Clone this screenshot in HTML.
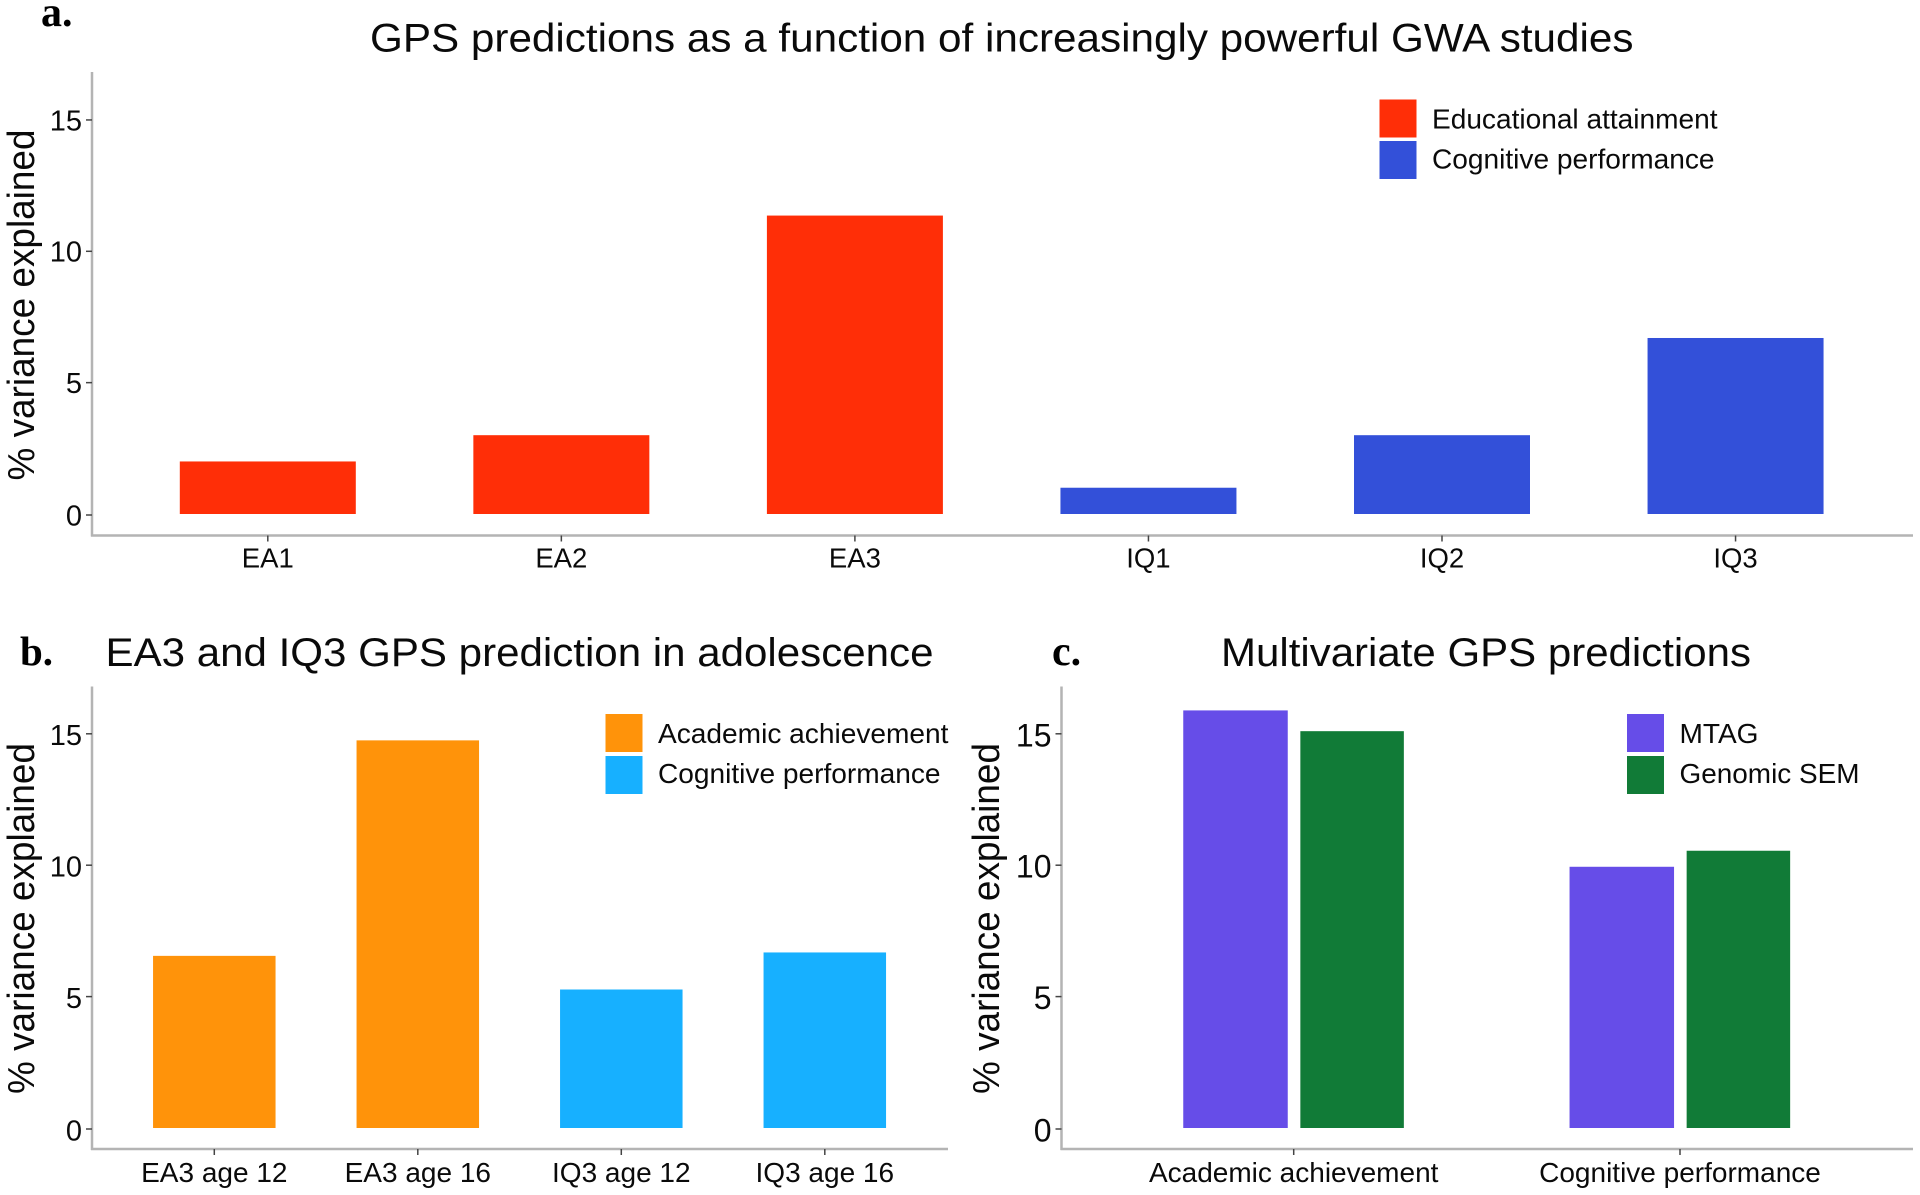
<!DOCTYPE html>
<html lang="en">
<head>
<meta charset="utf-8">
<title>GPS predictions</title>
<style>
html,body{margin:0;padding:0;background:#fff;width:1920px;height:1195px;overflow:hidden}
svg{display:block}
text{font-family:"Liberation Sans",sans-serif;fill:#0a0a0a}
.letter{font-family:"Liberation Serif",serif;font-weight:700;fill:#000}
</style>
</head>
<body>
<svg id="figure" width="1920" height="1195" viewBox="0 0 1920 1195" xmlns="http://www.w3.org/2000/svg">
  <rect width="1920" height="1195" fill="#fff"/>
  <text class="letter" x="41" y="26" font-size="42">a.</text>
  <text class="letter" x="20" y="665" font-size="41">b.</text>
  <text class="letter" x="1052" y="665" font-size="42">c.</text>
  <g id="panel-a"></g>
  <g id="panel-b"></g>
  <g id="panel-c"></g>
</svg>
<script>
// ---- Data ----
const yTickValues = [0, 5, 10, 15];
const yTickLabels = ['0', '5', '10', '15'];

const aCategories = ['EA1', 'EA2', 'EA3', 'IQ1', 'IQ2', 'IQ3'];
const aValues = [2.0, 3.0, 11.36, 1.0, 3.0, 6.7];
const aSeriesOf = [0, 0, 0, 1, 1, 1];
const aSeriesNames = ['Educational attainment', 'Cognitive performance'];

const bCategories = ['EA3 age 12', 'EA3 age 16', 'IQ3 age 12', 'IQ3 age 16'];
const bValues = [6.55, 14.75, 5.27, 6.68];
const bSeriesOf = [0, 0, 1, 1];
const bSeriesNames = ['Academic achievement', 'Cognitive performance'];

const cCategories = ['Academic achievement', 'Cognitive performance'];
const cMtagValues = [15.89, 9.94];
const cGenomicValues = [15.1, 10.55];
const cSeriesNames = ['MTAG', 'Genomic SEM'];

// ---- Drawing helpers ----
const NS = 'http://www.w3.org/2000/svg';
function svgEl(parent, tag, props) {
  const el = document.createElementNS(NS, tag);
  for (const k in props) el.setAttribute(k, props[k]);
  parent.appendChild(el);
  return el;
}
function label(parent, str, x, y, size, anchor, length) {
  const el = svgEl(parent, 'text', {x: x, y: y, 'font-size': size, 'text-anchor': anchor || 'start'});
  if (length) {
    el.setAttribute('textLength', length);
    el.setAttribute('lengthAdjust', 'spacingAndGlyphs');
  }
  el.textContent = str;
  return el;
}
function slug(s) { return s.toLowerCase().replace(/[^a-z0-9]+/g, '-'); }

function drawFrame(g, f) {
  const title = label(g, f.title, f.titleX, f.titleY, 40, 'start', f.titleLen);
  
  

  const yTitle = label(g, '% variance explained', 0, 0, 38, 'middle', 351);
  yTitle.setAttribute('transform', 'translate(' + f.yTitleX + ' ' + f.yTitleY + ') rotate(-90)');
  
  

  const yAxis = svgEl(g, 'line', {x1: f.left, x2: f.left, y1: f.top, y2: f.axisY + 1, stroke: '#b4b4b4', 'stroke-width': 2.5});
  
  

  const xAxis = svgEl(g, 'line', {x1: f.left - 1, x2: f.right, y1: f.axisY, y2: f.axisY, stroke: '#b4b4b4', 'stroke-width': 2.5});
  
  

  yTickValues.forEach(function (v, i) {
    const y = f.y(v) + (v === 0 ? 1 : 0);
    const tick = svgEl(g, 'line', {x1: f.left - 6, x2: f.left, y1: y, y2: y, stroke: '#444', 'stroke-width': 1.5});
    
    
    const t = label(g, yTickLabels[i], f.left - f.yLabelGap, y + f.yLabelSize * 0.36 + f.yLabelShift, f.yLabelSize, 'end');
    
    
  });
}

function drawXTick(g, f, cx, name) {
  const tick = svgEl(g, 'line', {x1: cx, x2: cx, y1: f.axisY, y2: f.axisY + 6, stroke: '#444', 'stroke-width': 1.5});
  
  
  const t = label(g, name, cx, f.xLabelY, f.xLabelSize, 'middle');
  
  
}

function drawLegend(g, f, names, colors) {
  names.forEach(function (name, i) {
    const top = f.legendY[i];
    const swatch = svgEl(g, 'rect', {x: f.legendX, y: top, width: 37, height: 38, fill: colors[i]});
    
    
    const t = label(g, name, f.legendX + 52.5, f.legendTextY[i], 28, 'start', f.legendLen[i]);
    
    
  });
}

function drawBar(g, f, cx, width, value, color, name) {
  const top = f.y(value);
  const bar = svgEl(g, 'rect', {x: cx - width / 2, y: top, width: width, height: f.y(0) - top, fill: color});
  
  
}

// ---- Panel a ----
(function () {
  const g = document.getElementById('panel-a');
  const colors = ['#ff2e07', '#3350d9'];
  const f = {
    title: 'GPS predictions as a function of increasingly powerful GWA studies',
    titleX: 370, titleY: 51.5, titleLen: 1263.5,
    yTitleX: 34, yTitleY: 305,
    left: 92, right: 1913, top: 72, axisY: 535.5,
    y: function (v) { return 514 - v * 26.27; },
    yLabelGap: 10, yLabelSize: 29, yLabelShift: 0, xLabelY: 567.5, xLabelSize: 27.5,
    legendX: 1379.5, legendY: [99.5, 141], legendTextY: [128.5, 168.5], legendLen: [285.5, 282.5]
  };
  const x = function (i) { return 267.8 + i * 293.55; };
  drawFrame(g, f);
  aCategories.forEach(function (name, i) {
    drawBar(g, f, x(i), 176, aValues[i], colors[aSeriesOf[i]], 'bar-' + slug(name));
    drawXTick(g, f, x(i), name);
  });
  drawLegend(g, f, aSeriesNames, colors);
})();

// ---- Panel b ----
(function () {
  const g = document.getElementById('panel-b');
  const colors = ['#ff930a', '#17b0ff'];
  const f = {
    title: 'EA3 and IQ3 GPS prediction in adolescence',
    titleX: 105.5, titleY: 666, titleLen: 828,
    yTitleX: 34, yTitleY: 918.5,
    left: 92, right: 948, top: 686.5, axisY: 1149,
    y: function (v) { return 1128 - v * 26.28; },
    yLabelGap: 10, yLabelSize: 29, yLabelShift: 1, xLabelY: 1182, xLabelSize: 28,
    legendX: 605.5, legendY: [714, 756], legendTextY: [743.2, 783.2], legendLen: [290.5, 282.5]
  };
  const x = function (i) { return 214.3 + i * 203.5; };
  drawFrame(g, f);
  bCategories.forEach(function (name, i) {
    drawBar(g, f, x(i), 122.5, bValues[i], colors[bSeriesOf[i]], 'bar-' + slug(name));
    drawXTick(g, f, x(i), name);
  });
  drawLegend(g, f, bSeriesNames, colors);
})();

// ---- Panel c ----
(function () {
  const g = document.getElementById('panel-c');
  const colors = ['#664de8', '#117b37'];
  const f = {
    title: 'Multivariate GPS predictions',
    titleX: 1221, titleY: 666, titleLen: 530,
    yTitleX: 999, yTitleY: 918.5,
    left: 1061.5, right: 1913, top: 686.5, axisY: 1149,
    y: function (v) { return 1128 - v * 26.28; },
    yLabelGap: 10, yLabelSize: 32, yLabelShift: 1, xLabelY: 1182, xLabelSize: 28,
    legendX: 1627, legendY: [714, 756], legendTextY: [743.2, 783.2], legendLen: [79, 180]
  };
  const x = function (i) { return 1293.7 + i * 386.3; };
  drawFrame(g, f);
  cCategories.forEach(function (name, i) {
    drawBar(g, f, x(i) - 58.2, 104.5, cMtagValues[i], colors[0], 'bar-mtag-' + slug(name));
    drawBar(g, f, x(i) + 58.4, 103.5, cGenomicValues[i], colors[1], 'bar-genomic-sem-' + slug(name));
    drawXTick(g, f, x(i), name);
  });
  drawLegend(g, f, cSeriesNames, colors);
})();
</script>
</body>
</html>
